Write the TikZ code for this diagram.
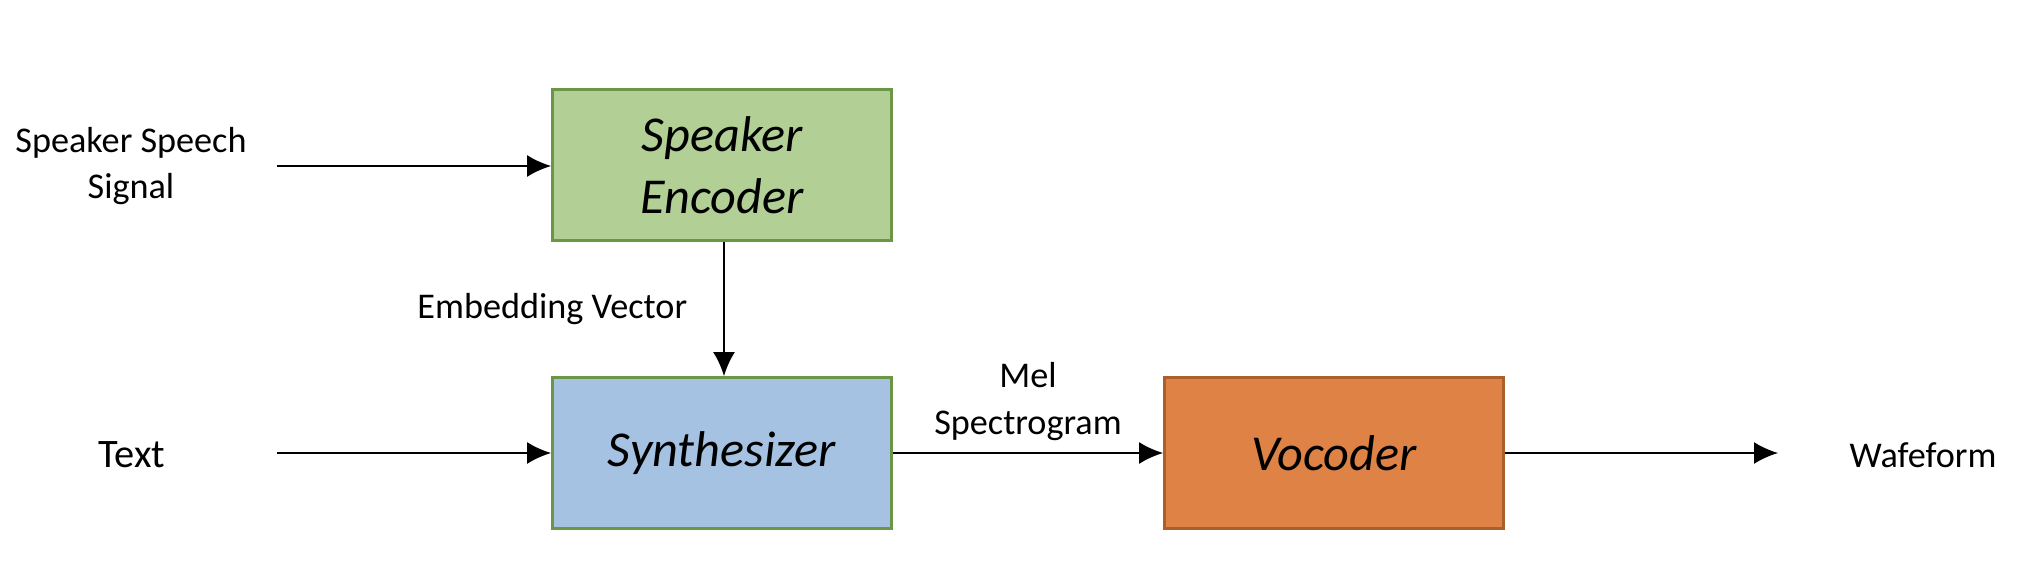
\documentclass[tikz,border=0pt]{standalone}
\usepackage{fontspec}
\setmainfont{Carlito}
\usetikzlibrary{arrows.meta}

\definecolor{encgreen}{RGB}{178,208,150}
\definecolor{encedge}{RGB}{106,150,70}
\definecolor{synblue}{RGB}{165,194,226}
\definecolor{vocorange}{RGB}{222,131,69}
\definecolor{vocedge}{RGB}{170,95,45}

\begin{document}
\begin{tikzpicture}[-{Latex[length=2.4mm,width=2.2mm]},line width=0.6pt,
        block/.style={rectangle,draw,line width=0.8pt,minimum width=3.39cm,minimum height=1.51cm,
            align=center,font=\fontsize{14.3}{17.6}\selectfont\itshape},
        label text/.style={align=center,font=\fontsize{10.3}{13.2}\selectfont}]

    \useasboundingbox (0,0) rectangle (20.2,-5.86);

    \node[block, fill=encgreen, draw=encedge] (enc) at (7.22,-1.65) {Speaker\\Encoder};
    \node[block, fill=synblue, draw=encedge] (syn) at (7.22,-4.53) {Synthesizer};
    \node[block, fill=vocorange, draw=vocedge] (voc) at (13.34,-4.53) {Vocoder};

    \node[label text] (speech) at (1.31,-1.66) {Speaker Speech\\Signal};
    \node[label text, font=\fontsize{11.5}{14}\selectfont] (text) at (1.32,-4.55) {Text};
    \node[label text] (wave) at (19.23,-4.55) {Wafeform};

    \coordinate (speechout) at (2.77,-1.66);
    \coordinate (textout) at (2.77,-4.53);
    \coordinate (wavein) at (17.78,-4.53);

    \path
    (speechout) edge (speechout -| enc.west)
    (textout) edge (syn.west)
    ([xshift=0.02cm]enc.south) edge node[label text, left=0.24cm] {Embedding Vector} ([xshift=0.02cm]syn.north)
    (syn.east) edge node[label text, above=0pt] {Mel\\Spectrogram} (voc.west)
    (voc.east) edge (wavein);

\end{tikzpicture}
\end{document}
